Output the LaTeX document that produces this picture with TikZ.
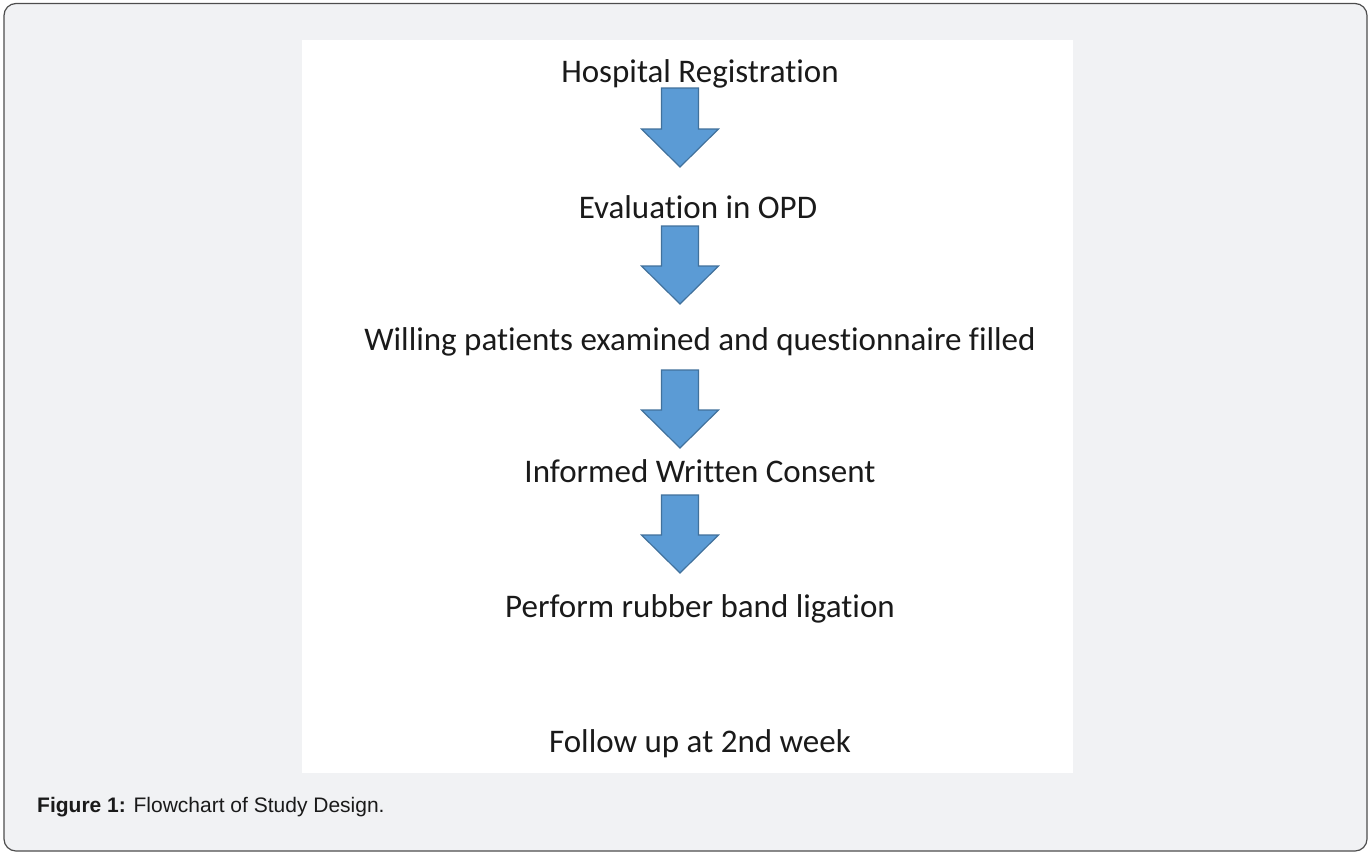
\documentclass[tikz,border=0pt]{standalone}
\usepackage{fontspec}
\setmainfont{Carlito}[Ligatures=NoCommon]
\newfontfamily\captionfont{Liberation Sans}
\usetikzlibrary{calc, positioning}
\definecolor{pagegray}{HTML}{F1F2F4}
\definecolor{framegray}{HTML}{4D4D4D}
\definecolor{arrowfill}{HTML}{5B9BD5}
\definecolor{arrowline}{HTML}{41719C}
\definecolor{textgray}{HTML}{1A1A1A}
\tikzset{
    step text/.style={anchor=base, font=\fontsize{33}{38}\selectfont, text=textgray, inner sep=0pt},
    block arrow/.style={fill=arrowfill, draw=arrowline, line width=1.2pt, line join=miter},
}
% shaft half width, head half width, head length
\def\shafthalf{18.5}
\def\headhalf{38.5}
\def\headlen{38}
\newcommand{\blockarrow}[2]{
    \draw[block arrow] ($(#1)+(-\shafthalf,0)$) -- ($(#1)+(\shafthalf,0)$)
        -- ($(#2)+(\shafthalf,-\headlen)$) -- ($(#2)+(\headhalf,-\headlen)$)
        -- (#2) -- ($(#2)+(-\headhalf,-\headlen)$)
        -- ($(#2)+(-\shafthalf,-\headlen)$) -- cycle;
}

\begin{document}
\begin{tikzpicture}[x=1pt, y=-1pt]

\useasboundingbox (0,0) rectangle (1371,855);
\draw[fill=pagegray, draw=framegray, line width=1.2pt, rounded corners=12pt] (4,3.5) rectangle (1367,851);
\fill[white] (302,40) rectangle (1073,773);

\node[step text] (reg) at (700,82) {Hospital Registration};
\node[step text] (opd) at (698,218) {Evaluation in OPD};
\node[step text] (exam) at (700,350) {Willing patients examined and questionnaire filled};
\node[step text] (consent) at (700,482) {Informed Written Consent};
\node[step text] (rbl) at (700,617) {Perform rubber band ligation};
\node[step text] (follow) at (700,752) {Follow up at 2nd week};

\coordinate (top1) at (680,88);  \coordinate (tip1) at (680,167);
\coordinate (top2) at (680,226); \coordinate (tip2) at (680,304);
\coordinate (top3) at (680,370); \coordinate (tip3) at (680,448);
\coordinate (top4) at (680,495); \coordinate (tip4) at (680,573);
\foreach \i in {1,...,4}{
    \blockarrow{top\i}{tip\i}
}

\node[anchor=base west, inner sep=0pt, font=\captionfont\fontsize{21}{24}\selectfont, text=textgray] (cap) at (37,812) {\textbf{Figure 1:} Flowchart of Study Design.};

\end{tikzpicture}
\end{document}
